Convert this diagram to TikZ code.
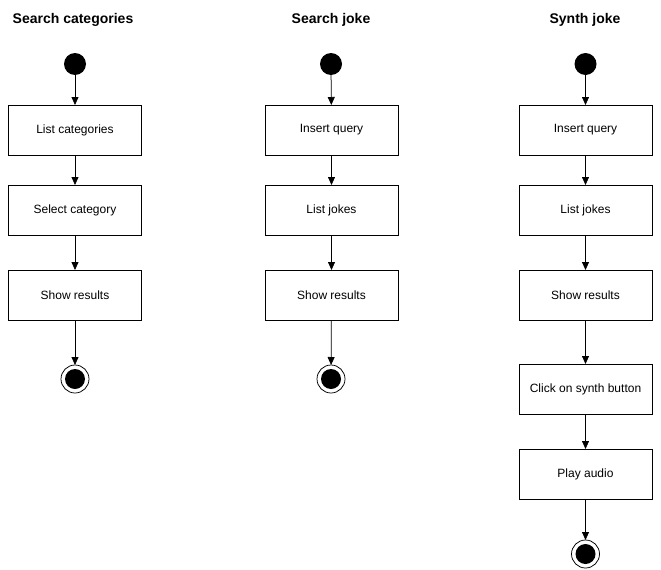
\documentclass[tikz,border=0pt]{standalone}
\usepackage{fontspec}
\setmainfont{Liberation Sans}
\usetikzlibrary{arrows.meta}
\begin{document}
\begin{tikzpicture}[x=1pt,y=-1pt,
  every node/.style={inner sep=0pt, outer sep=0pt},
  title/.style={font=\bfseries\fontsize{14}{16}\selectfont},
  action/.style={draw=black, line width=0.75pt, fill=white, minimum width=133pt, minimum height=50pt, font=\fontsize{12}{14}\selectfont},
  startnode/.style={circle, fill=black, minimum size=22pt},
  endnode/.style={circle, draw=black, line width=0.75pt, fill=white, minimum size=28pt,
    path picture={\fill[black] (path picture bounding box.center) circle (10pt);}},
  flow/.style={draw=black, line width=0.75pt, -{Triangle[width=7pt,length=8pt]}}]
\useasboundingbox (0,0) rectangle (661,570);

% Search categories
\node[title] (t1) at (73,20) {Search categories};
\node[startnode] (s1) at (75,64) {};
\node[action] (a1) at (75,130) {List categories};
\node[action] (b1) at (75,210) {Select category};
\node[action] (c1) at (75,295) {Show results};
\node[endnode] (e1) at (75,379) {};
\draw[flow] (s1) -- (a1);
\draw[flow] (a1) -- (b1);
\draw[flow] (b1) -- (c1);
\draw[flow] (c1) -- (e1);

% Search joke
\node[title] (t2) at (331,20) {Search joke};
\node[startnode] (s2) at (331,64) {};
\node[action] (a2) at (331.5,130) {Insert query};
\node[action] (b2) at (331.5,210) {List jokes};
\node[action] (c2) at (331.5,295) {Show results};
\node[endnode] (e2) at (331,379) {};
\draw[flow] (s2) -- (a2);
\draw[flow] (a2) -- (b2);
\draw[flow] (b2) -- (c2);
\draw[flow] (c2) -- (e2);

% Synth joke
\node[title] (t3) at (585,20) {Synth joke};
\node[startnode] (s3) at (585.5,64) {};
\node[action] (a3) at (585.5,130) {Insert query};
\node[action] (b3) at (585.5,210) {List jokes};
\node[action] (c3) at (585.5,295) {Show results};
\node[action] (d3) at (585.5,389) {Click on synth button};
\node[action] (f3) at (585.5,474) {Play audio};
\node[endnode] (e3) at (585.5,554) {};
\draw[flow] (s3) -- (a3);
\draw[flow] (a3) -- (b3);
\draw[flow] (b3) -- (c3);
\draw[flow] (c3) -- (d3);
\draw[flow] (d3) -- (f3);
\draw[flow] (f3) -- (e3);
\end{tikzpicture}
\end{document}
